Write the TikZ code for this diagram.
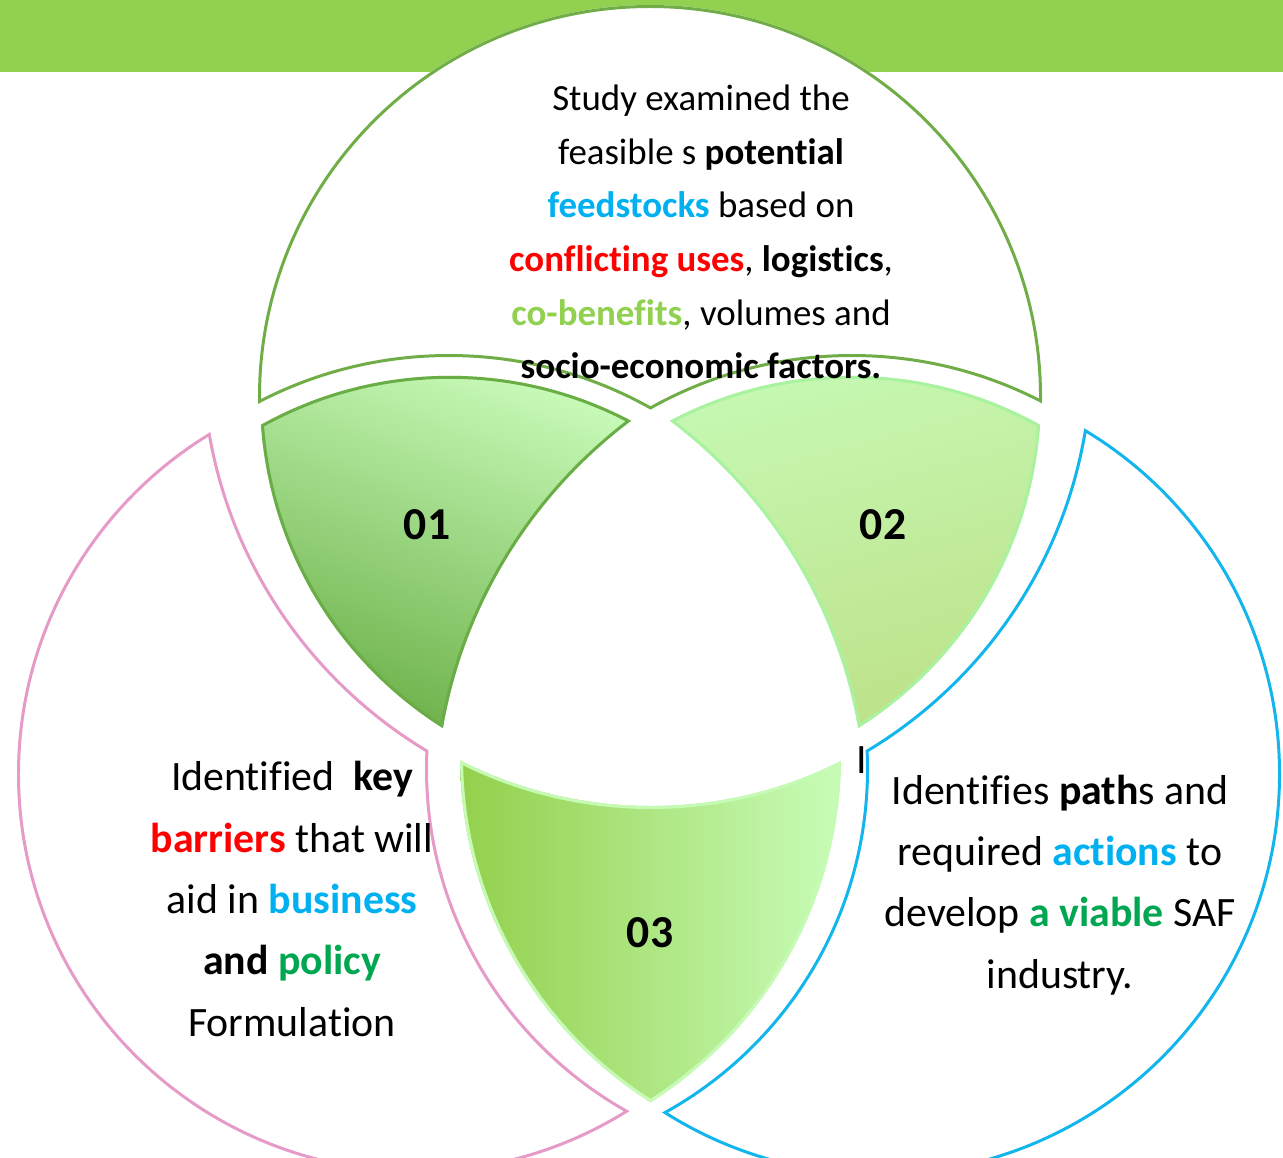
\documentclass[tikz,border=0pt]{standalone}
\usepackage{fontspec}
\setmainfont{Carlito}[Ligatures=NoCommon]
\usepackage{tikz}
\definecolor{band}{HTML}{92D050}
\definecolor{topline}{HTML}{70AD47}
\definecolor{pinkline}{HTML}{E59AC7}
\definecolor{blueline}{HTML}{12B5EC}
\definecolor{oneline}{HTML}{6AAD46}
\definecolor{onelight}{HTML}{C6F9B6}
\definecolor{onedark}{HTML}{6BAF47}
\definecolor{twoline}{HTML}{A8F2A0}
\definecolor{twolight}{HTML}{C6F8B2}
\definecolor{twodark}{HTML}{BDE188}
\definecolor{threeline}{HTML}{C6FBB6}
\definecolor{threeleft}{HTML}{92D04A}
\definecolor{threeright}{HTML}{C9FDBA}
\definecolor{txtcyan}{HTML}{00B0F0}
\definecolor{txtred}{HTML}{FF0000}
\definecolor{txtlime}{HTML}{92D050}
\definecolor{txtgreen}{HTML}{00A650}

\begin{document}
\begin{tikzpicture}[x=0.02cm,y=-0.02cm,
    rim/.style={line width=3.4pt},
    piece/.style={even odd rule},
    toptext/.style={align=center,inner sep=0pt,font=\fontsize{21}{30.5}\selectfont},
    sidetext/.style={align=center,inner sep=0pt,font=\fontsize{23.8}{34.9}\selectfont},
    numlabel/.style={inner sep=0pt,font=\fontsize{26}{30}\selectfont\bfseries}]
\useasboundingbox (0,0) rectangle (1283,1157);
\fill[band] (0,0) rectangle (1283,72);

\begin{scope}[piece]
  \clip (650,397) circle [radius=392];
  \clip (-50,-50) rectangle (1350,1250) (449,768.5) circle [radius=411.5];
  \clip (-50,-50) rectangle (1350,1250) (852,768.5) circle [radius=411.5];
  \fill[white] (0,0) rectangle (1283,1157);
  \draw[rim,topline] (650,397) circle [radius=392] (449,768.5) circle [radius=411.5] (852,768.5) circle [radius=411.5];
\end{scope}

\begin{scope}[piece]
  \clip (449.7,763.8) circle [radius=388];
  \clip (651,397) circle [radius=391];
  \clip (-50,-50) rectangle (1350,1250) (925.6,812.5) circle [radius=490];
  \shade[top color=onelight, bottom color=onedark, shading angle=-20] (250,370) rectangle (640,735);
  \draw[rim,oneline] (449.7,763.8) circle [radius=388] (651,397) circle [radius=391] (925.6,812.5) circle [radius=490];
\end{scope}

\begin{scope}[piece]
  \clip (851.3,763.8) circle [radius=388];
  \clip (650,397) circle [radius=391];
  \clip (-50,-50) rectangle (1350,1250) (375.4,812.5) circle [radius=490];
  \shade[top color=twolight, bottom color=twodark, shading angle=15] (660,370) rectangle (1050,735);
  \draw[rim,twoline] (851.3,763.8) circle [radius=388] (650,397) circle [radius=391] (375.4,812.5) circle [radius=490];
\end{scope}

\begin{scope}[piece]
  \clip (870,756) circle [radius=410];
  \clip (431,756) circle [radius=410];
  \clip (-50,-50) rectangle (1350,1250) (651,384) circle [radius=422];
  \shade[left color=threeleft, right color=threeright] (455,750) rectangle (848,1108);
  \draw[rim,threeline] (870,756) circle [radius=410] (431,756) circle [radius=410] (651,384) circle [radius=422];
\end{scope}

\begin{scope}[piece]
  \clip (416,774) circle [radius=399];
  \clip (-50,-50) rectangle (1350,1250) (664,355) circle [radius=460];
  \clip (-50,-50) rectangle (1350,1250) (819,769) circle [radius=391];
  \draw[rim,pinkline] (416,774) circle [radius=399] (664,355) circle [radius=460] (819,769) circle [radius=391];
\end{scope}

\begin{scope}[piece]
  \clip (879,774) circle [radius=402];
  \clip (-50,-50) rectangle (1350,1250) (630,355) circle [radius=460];
  \clip (-50,-50) rectangle (1350,1250) (475,769) circle [radius=391];
  \draw[rim,blueline] (879,774) circle [radius=402] (630,355) circle [radius=460] (475,769) circle [radius=391];
\end{scope}

\node[numlabel] (n01) at (427,525) {01};
\node[numlabel] (n02) at (883,525) {02};
\node[numlabel] (n03) at (650,933) {03};

\node[toptext] (study) at (701,232) {Study examined the\\
  feasible s \textbf{potential}\\
  {\color{txtcyan}\textbf{feedstocks}} based on\\
  {\color{txtred}\textbf{conflicting uses}}, \textbf{logistics},\\
  {\color{txtlime}\textbf{co-benefits}}, volumes and\\
  \textbf{socio-economic factors.}};
\node[sidetext] (barriers) at (292,899) {Identified~ \textbf{key}\\
  {\color{txtred}\textbf{barriers}} that will\\
  aid in {\color{txtcyan}\textbf{business}}\\
  \textbf{and {\color{txtgreen}policy}}\\
  Formulation};
\node[sidetext] (paths) at (1060,885) {Identifies \textbf{path}s and\\
  required {\color{txtcyan}\textbf{actions}} to\\
  develop {\color{txtgreen}\textbf{a viable}} SAF\\
  industry.};
\node[sidetext] (stray) at (862,760) {I};
\end{tikzpicture}
\end{document}
